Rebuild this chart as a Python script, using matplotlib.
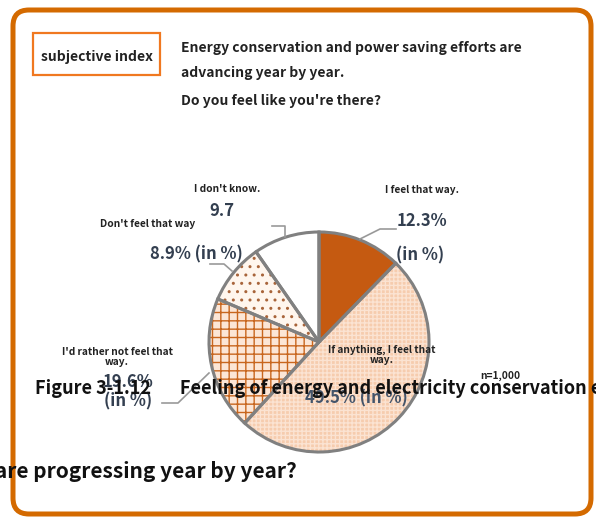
import matplotlib.pyplot as plt
from matplotlib.patches import FancyBboxPatch, Rectangle

plt.rcParams['font.family'] = ['Noto Sans CJK JP', 'DejaVu Sans']

# data (clockwise from 12 o'clock)
labels = ["I feel that way.", "If anything, I feel that\nway.",
          "I'd rather not feel that\nway.", "Don't feel that way", "I don't know."]
values = [12.3, 49.5, 19.6, 8.9, 9.7]
faces = ['#C55A11', '#F6CCAE', '#FCE6D6', '#FFF6EE', '#FFFFFF']
hatch_cols = ['#C55A11', '#FBE3D2', '#C8661E', '#A8643A', '#FFFFFF']
hatches = [None, '++++', '++', '..', None]
n_text = "n=1,000"

W, H = 596, 518
fig = plt.figure(figsize=(W / 100, H / 100), dpi=100)
ax = fig.add_axes([0, 0, 1, 1])


def Y(y):
    return H - y


# outer frame
ax.add_patch(FancyBboxPatch((13, Y(514)), 578, 504, boxstyle="round,pad=0,rounding_size=16",
                            fc='white', ec='#D46A00', lw=3.6, zorder=0))
# subjective index box
ax.add_patch(Rectangle((33, Y(75)), 127, 42, fc='white', ec='#F07820', lw=1.6, zorder=1))
ax.text(97, Y(57), "subjective index", ha='center', va='center', fontsize=10,
        fontweight='bold', color='#222222')

title_lines = ["Energy conservation and power saving efforts are",
               "advancing year by year.",
               "Do you feel like you're there?"]
for t, y in zip(title_lines, [48, 73, 101]):
    ax.text(181, Y(y), t, ha='left', va='center', fontsize=10, fontweight='bold', color='#222222')

center = (319, Y(342))
r = 110
wedges, _ = ax.pie(values, startangle=90, counterclock=False, center=center, radius=r,
                   colors=faces, wedgeprops=dict(lw=0), frame=True)
for w, hc, hp in zip(wedges, hatch_cols, hatches):
    w.set_edgecolor(hc)
    if hp:
        w.set_hatch(hp)
ax.pie(values, startangle=90, counterclock=False, center=center, radius=r,
       colors=['none'] * len(values), wedgeprops=dict(lw=2.2, ec='#808080'), frame=True)
ax.set_xlim(0, W)
ax.set_ylim(0, H)
ax.set_aspect('equal')
ax.axis('off')

lab_col = '#333F50'
small = dict(fontsize=7.3, fontweight='bold', color='#222222', ha='center', va='center')
big = dict(fontsize=12, fontweight='bold', color=lab_col, ha='center', va='center')

# leader lines
lc = '#999999'
ax.plot([360, 380, 396], [Y(239), Y(229), Y(229)], color=lc, lw=1.2)
ax.plot([285, 285, 272], [Y(237), Y(226), Y(226)], color=lc, lw=1.2)
ax.plot([232, 224, 210], [Y(271), Y(264), Y(264)], color=lc, lw=1.2)
ax.plot([209, 178, 162], [Y(373), Y(403), Y(403)], color=lc, lw=1.2)

ax.text(422, Y(190), labels[0], **small)
ax.text(422, Y(221), "12.3%", **big)
ax.text(420, Y(255), "(in %)", **big)

ax.text(227, Y(189), labels[4], **small)
ax.text(222, Y(211), "9.7", **big)

ax.text(148, Y(224), labels[3], **small)
ax.text(196, Y(254), "8.9% (in %)", **big)

ax.text(117, Y(357), labels[2], linespacing=0.95, **small)
ax.text(128, Y(382), "19.6%", **big)
ax.text(128, Y(401), "(in %)", **big)

ax.text(382, Y(355), labels[1], linespacing=0.95, **small)
ax.text(356, Y(398), "49.5% (in %)", fontsize=12, fontweight='bold', color='#44546A',
        ha='center', va='center')

ax.text(500, Y(376), n_text, fontsize=7.3, fontweight='bold', color='#222222',
        ha='center', va='center')

ax.text(35, Y(389), "Figure 3-1.12       Feeling of energy and electricity conservation efforts",
        ha='left', va='center', fontsize=13, fontweight='bold', color='#111111', zorder=5)
ax.text(-5, Y(472), "are progressing year by year?", ha='left', va='center', fontsize=15,
        fontweight='bold', color='#111111', zorder=5)

fig.savefig('out.png', dpi=100)
